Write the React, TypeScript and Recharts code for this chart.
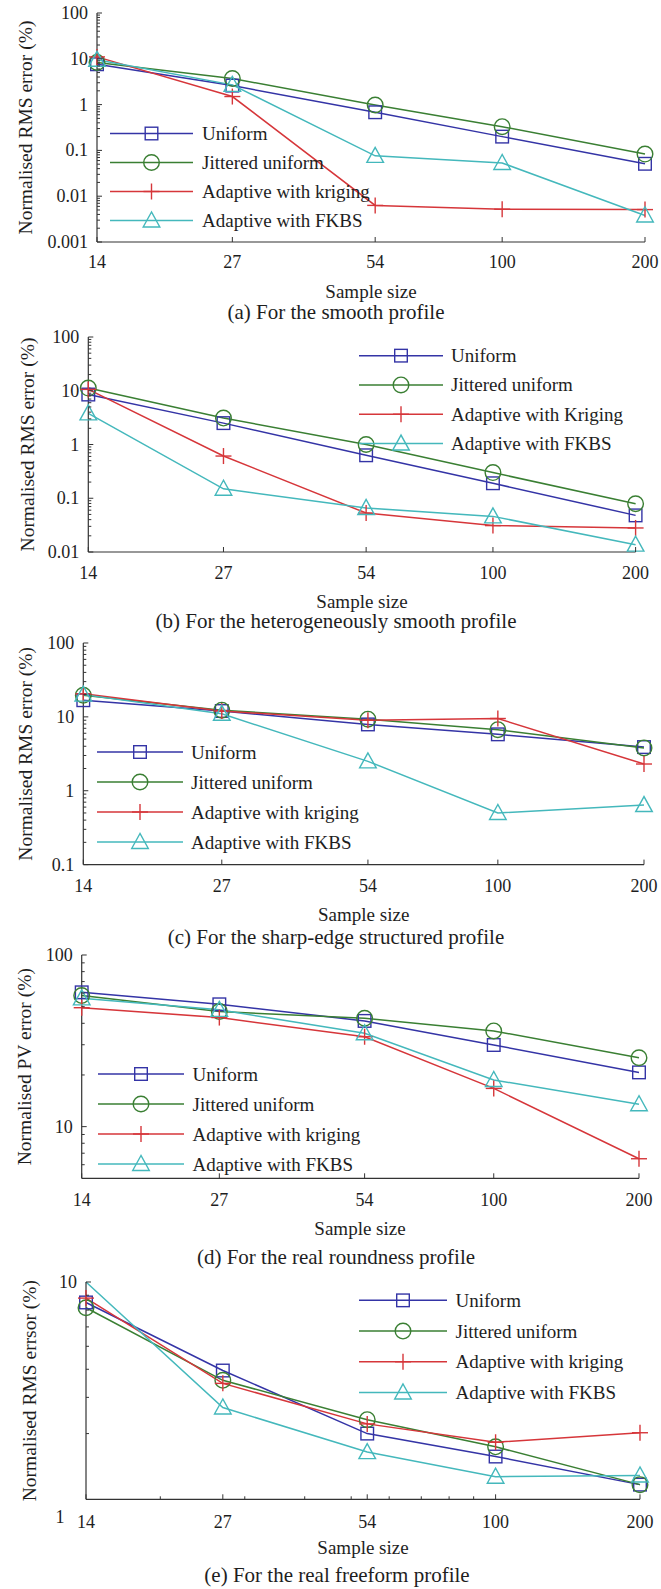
import React from 'react';
import { LineChart, Line, XAxis, YAxis, Legend } from 'recharts';

const FONT = '"Liberation Serif", "Times New Roman", serif';
const AXIS = '#333333';
const TEXT = '#1e1e1e';
const COLORS: Record<string, string> = {
  uniform: '#3434a6',
  jittered: '#3a7f33',
  kriging: '#d6363a',
  fkbs: '#44b8bc',
};
const MARKERS: Record<string, string> = {
  uniform: 'square',
  jittered: 'circle',
  kriging: 'plus',
  fkbs: 'triangle',
};
const KEYS = ['uniform', 'jittered', 'kriging', 'fkbs'];

// x categories (sample size, log spaced)
const sampleSizes = [14, 27, 54, 100, 200];
const xMajorTicks = [14, 27, 54, 100, 200];
const xMinorTicksE = [20, 30, 40, 50, 60, 70, 80, 90];

// (a) smooth profile
const uniformA = [7.6, 2.6, 0.68, 0.2, 0.051];
const jitteredA = [8.3, 3.7, 0.98, 0.33, 0.083];
const krigingA = [11, 1.5, 0.0063, 0.0052, 0.0051];
const fkbsA = [9.5, 2.7, 0.076, 0.053, 0.0038];

// (b) heterogeneously smooth profile
const uniformB = [8.5, 2.5, 0.63, 0.19, 0.048];
const jitteredB = [11.2, 3.1, 1.0, 0.3, 0.079];
const krigingB = [10.6, 0.61, 0.053, 0.031, 0.028];
const fkbsB = [3.8, 0.15, 0.066, 0.046, 0.0137];

// (c) sharp-edge structured profile
const uniformC = [16.8, 12, 7.9, 5.8, 3.9];
const jitteredC = [19.6, 12.3, 9.3, 6.7, 3.8];
const krigingC = [20.5, 12, 9, 9.5, 2.3];
const fkbsC = [20, 11, 2.5, 0.5, 0.64];

// (d) real roundness profile (PV)
const uniformD = [60.6, 51.6, 41.3, 29.9, 20.7];
const jitteredD = [58, 46.8, 42.8, 36.1, 25.2];
const krigingD = [49.3, 43.2, 33.4, 16.7, 6.5];
const fkbsD = [55.9, 47.9, 35, 18.7, 13.5];

// (e) real freeform profile
const uniformE = [8.5, 4.95, 3.0, 2.5, 2.0];
const jitteredE = [8.15, 4.58, 3.35, 2.7, 2.0];
const krigingE = [8.8, 4.47, 3.24, 2.8, 3.02];
const fkbsE = [10, 3.69, 2.59, 2.13, 2.15];

const yMajorA = [0.001, 0.01, 0.1, 1, 10, 100];
const yMajorB = [0.01, 0.1, 1, 10, 100];
const yMajorC = [0.1, 1, 10, 100];
const yMajorD = [10, 100];
const yMajorE = [10];
const yMinorE = [3, 4, 5, 6, 7, 8, 9];

const namesKrigingLower = ['Uniform', 'Jittered uniform', 'Adaptive with kriging', 'Adaptive with FKBS'];
const namesKrigingUpper = ['Uniform', 'Jittered uniform', 'Adaptive with Kriging', 'Adaptive with FKBS'];

const minorsOf = (decades: number[], lo: number, hi: number) => {
  const out: number[] = [];
  decades.forEach((d) => {
    [2, 3, 4, 5, 6, 7, 8, 9].forEach((m) => {
      const v = m * d;
      if (v > lo && v < hi) out.push(v);
    });
  });
  return out;
};

const buildRows = (u: number[], j: number[], k: number[], f: number[]) =>
  sampleSizes.map((n, i) => ({ n, uniform: u[i], jittered: j[i], kriging: k[i], fkbs: f[i] }));

const marker = (kind: string, cx: number, cy: number, color: string) => {
  const sw = 1.4;
  if (kind === 'square')
    return <rect x={cx - 6.3} y={cy - 6.3} width={12.6} height={12.6} fill="none" stroke={color} strokeWidth={sw} />;
  if (kind === 'circle') return <circle cx={cx} cy={cy} r={7.8} fill="none" stroke={color} strokeWidth={sw} />;
  if (kind === 'plus')
    return (
      <g stroke={color} strokeWidth={sw}>
        <line x1={cx - 8} x2={cx + 8} y1={cy} y2={cy} />
        <line x1={cx} x2={cx} y1={cy - 8} y2={cy + 8} />
      </g>
    );
  return (
    <polygon
      points={`${cx},${cy - 8.5} ${cx - 8.3},${cy + 6.5} ${cx + 8.3},${cy + 6.5}`}
      fill="none"
      stroke={color}
      strokeWidth={sw}
    />
  );
};

type LegendPos = { x: number; y: number; gap: number; lineLen: number; textX: number };

type PanelProps = {
  plotLeft: number;
  plotRight: number;
  plotTop: number;
  plotBottom: number;
  rows: any[];
  yDomain: [number, number];
  yMajor: number[];
  yMinor: number[];
  xMinor?: number[];
  yLabel: string;
  yLabelX: number;
  tickDy: number;
  legend: LegendPos;
  names: string[];
  hideAbove?: number;
};

const Panel = (p: PanelProps) => {
  const top = p.plotTop - 10;
  const plotH = p.plotBottom - p.plotTop;
  const chartH = plotH + 10 + 40;
  const xTicks = [...xMajorTicks, ...(p.xMinor ?? [])].sort((a, b) => a - b);
  const yTicks = [...p.yMajor, ...p.yMinor].sort((a, b) => a - b);
  const rowH = p.legend.gap;

  const leftTick = (t: any) => {
    const v = t.payload.value;
    const major = p.yMajor.includes(v);
    return (
      <g>
        <line x1={t.x} x2={t.x + (major ? 5 : 3)} y1={t.y} y2={t.y} stroke={AXIS} strokeWidth={1} />
        {major && (
          <text x={t.x - 9} y={t.y} textAnchor="end" dominantBaseline="central" fontSize={18} fontFamily={FONT} fill={TEXT}>
            {String(v)}
          </text>
        )}
      </g>
    );
  };
  const rightTick = (t: any) => {
    const v = t.payload.value;
    const major = p.yMajor.includes(v);
    return <line x1={t.x} x2={t.x - (major ? 5 : 3)} y1={t.y} y2={t.y} stroke={AXIS} strokeWidth={1} />;
  };
  const bottomTick = (t: any) => {
    const v = t.payload.value;
    const major = xMajorTicks.includes(v);
    return (
      <g>
        <line x1={t.x} x2={t.x} y1={t.y} y2={t.y - (major ? 5 : 3)} stroke={AXIS} strokeWidth={1} />
        {major && (
          <text x={t.x} y={t.y + p.tickDy} textAnchor="middle" dominantBaseline="central" fontSize={18} fontFamily={FONT} fill={TEXT}>
            {String(v)}
          </text>
        )}
      </g>
    );
  };
  const topTick = (t: any) => {
    const v = t.payload.value;
    const major = xMajorTicks.includes(v);
    return <line x1={t.x} x2={t.x} y1={t.y} y2={t.y + (major ? 5 : 3)} stroke={AXIS} strokeWidth={1} />;
  };

  const legendContent = () => (
    <svg width={340} height={rowH * 4 + 4} style={{ overflow: 'visible' }}>
      {KEYS.map((k, i) => {
        const cy = rowH / 2 + i * rowH;
        const c = COLORS[k];
        return (
          <g key={k}>
            <line x1={10} x2={10 + p.legend.lineLen} y1={cy} y2={cy} stroke={c} strokeWidth={1.5} />
            {marker(MARKERS[k], 10 + p.legend.lineLen / 2, cy, c)}
            <text x={10 + p.legend.textX} y={cy} dominantBaseline="central" fontSize={19} fontFamily={FONT} fill={TEXT}>
              {p.names[i]}
            </text>
          </g>
        );
      })}
    </svg>
  );

  return (
    <div style={{ position: 'absolute', left: 0, top }}>
      <LineChart width={661} height={chartH} data={p.rows} margin={{ top: 10, right: 661 - p.plotRight, left: 0, bottom: 0 }}>
        <XAxis
          xAxisId="b"
          dataKey="n"
          type="number"
          scale="log"
          domain={[14, 200]}
          ticks={xTicks}
          interval={0}
          height={40}
          tickSize={0}
          tickMargin={0}
          tickLine={false}
          axisLine={{ stroke: AXIS, strokeWidth: 1.2 }}
          tick={bottomTick}
        />
        <XAxis
          xAxisId="t"
          orientation="top"
          type="number"
          scale="log"
          domain={[14, 200]}
          allowDataOverflow
          ticks={[27, 54, 100, ...(p.xMinor ? [20] : [])]}
          interval={0}
          height={0}
          tickSize={0}
          tickMargin={0}
          tickLine={false}
          axisLine={{ stroke: AXIS, strokeWidth: 1.2 }}
          tick={topTick}
        />
        <YAxis
          yAxisId="l"
          type="number"
          scale="log"
          domain={p.yDomain}
          ticks={yTicks}
          interval={0}
          width={p.plotLeft}
          tickSize={0}
          tickMargin={0}
          tickLine={false}
          axisLine={{ stroke: AXIS, strokeWidth: 1.2 }}
          tick={leftTick}
          label={() => (
            <text
              transform={`translate(${p.yLabelX}, ${10 + plotH / 2}) rotate(-90)`}
              textAnchor="middle"
              dominantBaseline="central"
              fontSize={19.5}
              fontFamily={FONT}
              fill={TEXT}
            >
              {p.yLabel}
            </text>
          )}
        />
        <YAxis
          yAxisId="r"
          orientation="right"
          type="number"
          scale="log"
          domain={p.yDomain}
          allowDataOverflow
          ticks={yTicks}
          interval={0}
          width={0}
          tickSize={0}
          tickMargin={0}
          tickLine={false}
          axisLine={{ stroke: AXIS, strokeWidth: 1.2 }}
          tick={rightTick}
        />
        <Legend
          layout="vertical"
          verticalAlign="middle"
          align="center"
          content={legendContent}
          wrapperStyle={{
            left: p.legend.x - 10,
            top: p.legend.y - top - rowH / 2,
            width: 340,
            height: rowH * 4 + 4,
          }}
        />
        {KEYS.map((k) => (
          <Line
            key={k}
            xAxisId="b"
            yAxisId="l"
            dataKey={k}
            stroke={COLORS[k]}
            strokeWidth={1.5}
            isAnimationActive={false}
            legendType="none"
            dot={(d: any) => {
              const v = d.payload ? d.payload[k] : d.value;
              if (p.hideAbove !== undefined && v >= p.hideAbove) return <g key={`${k}-${d.index}`} />;
              return <g key={`${k}-${d.index}`}>{marker(MARKERS[k], d.cx, d.cy, COLORS[k])}</g>;
            }}
            activeDot={false}
          />
        ))}
      </LineChart>
    </div>
  );
};

const CenterText = ({ x, y, size, children }: { x: number; y: number; size: number; children: React.ReactNode }) => (
  <div
    style={{
      position: 'absolute',
      left: x,
      top: y,
      transform: 'translate(-50%, -50%)',
      whiteSpace: 'nowrap',
      fontFamily: FONT,
      fontSize: size,
      lineHeight: 1,
      color: TEXT,
    }}
  >
    {children}
  </div>
);

export default function App() {
  return (
    <div style={{ position: 'absolute', left: 0, top: 0, width: 661, height: 1589, background: '#fff', overflow: 'hidden' }}>
      <Panel
        plotLeft={97}
        plotRight={645}
        plotTop={13.3}
        plotBottom={242.3}
        rows={buildRows(uniformA, jitteredA, krigingA, fkbsA)}
        yDomain={[0.001, 100]}
        yMajor={yMajorA}
        yMinor={minorsOf([0.001, 0.01, 0.1, 1, 10], 0.001, 100)}
        yLabel="Normalised RMS error (%)"
        yLabelX={25}
        tickDy={19.7}
        legend={{ x: 110, y: 133.3, gap: 29, lineLen: 83, textX: 92 }}
        names={namesKrigingLower}
      />
      <CenterText x={371} y={290.7} size={19}>Sample size</CenterText>
      <CenterText x={336} y={311.7} size={21}>(a) For the smooth profile</CenterText>

      <Panel
        plotLeft={88.3}
        plotRight={635.6}
        plotTop={337.3}
        plotBottom={552.3}
        rows={buildRows(uniformB, jitteredB, krigingB, fkbsB)}
        yDomain={[0.01, 100]}
        yMajor={yMajorB}
        yMinor={minorsOf([0.01, 0.1, 1, 10], 0.01, 100)}
        yLabel="Normalised RMS error (%)"
        yLabelX={27}
        tickDy={21}
        legend={{ x: 359, y: 355.3, gap: 29.3, lineLen: 84, textX: 92 }}
        names={namesKrigingUpper}
      />
      <CenterText x={362} y={600.7} size={19}>Sample size</CenterText>
      <CenterText x={336} y={621.3} size={21}>(b) For the heterogeneously smooth profile</CenterText>

      <Panel
        plotLeft={83.3}
        plotRight={644}
        plotTop={642.7}
        plotBottom={864.3}
        rows={buildRows(uniformC, jitteredC, krigingC, fkbsC)}
        yDomain={[0.1, 100]}
        yMajor={yMajorC}
        yMinor={minorsOf([0.1, 1, 10], 0.1, 100)}
        yLabel="Normalised RMS error (%)"
        yLabelX={25}
        tickDy={21.7}
        legend={{ x: 96.6, y: 751.7, gap: 30, lineLen: 86, textX: 94 }}
        names={namesKrigingLower}
      />
      <CenterText x={363.7} y={914} size={19}>Sample size</CenterText>
      <CenterText x={336} y={936.7} size={21}>(c) For the sharp-edge structured profile</CenterText>

      <Panel
        plotLeft={81.7}
        plotRight={639}
        plotTop={955}
        plotBottom={1178.3}
        rows={buildRows(uniformD, jitteredD, krigingD, fkbsD)}
        yDomain={[5, 100]}
        yMajor={yMajorD}
        yMinor={minorsOf([1, 10], 5, 100)}
        yLabel="Normalised PV error (%)"
        yLabelX={24}
        tickDy={21.7}
        legend={{ x: 98.3, y: 1074, gap: 30, lineLen: 86, textX: 94.5 }}
        names={namesKrigingLower}
      />
      <CenterText x={360} y={1228.3} size={19}>Sample size</CenterText>
      <CenterText x={336} y={1256.7} size={21}>(d) For the real roundness profile</CenterText>

      <Panel
        plotLeft={86}
        plotRight={640}
        plotTop={1281.7}
        plotBottom={1499}
        rows={buildRows(uniformE, jitteredE, krigingE, fkbsE)}
        yDomain={[1.78, 10]}
        yMajor={yMajorE}
        yMinor={yMinorE}
        xMinor={xMinorTicksE}
        yLabel="Normalised RMS errsor (%)"
        yLabelX={29}
        tickDy={22.7}
        legend={{ x: 359, y: 1300.7, gap: 30.7, lineLen: 88, textX: 96.5 }}
        names={namesKrigingLower}
        hideAbove={10}
      />
      <CenterText x={60} y={1516.7} size={18}>1</CenterText>
      <CenterText x={363} y={1546.7} size={19}>Sample size</CenterText>
      <CenterText x={337} y={1575} size={21}>(e) For the real freeform profile</CenterText>
    </div>
  );
}
